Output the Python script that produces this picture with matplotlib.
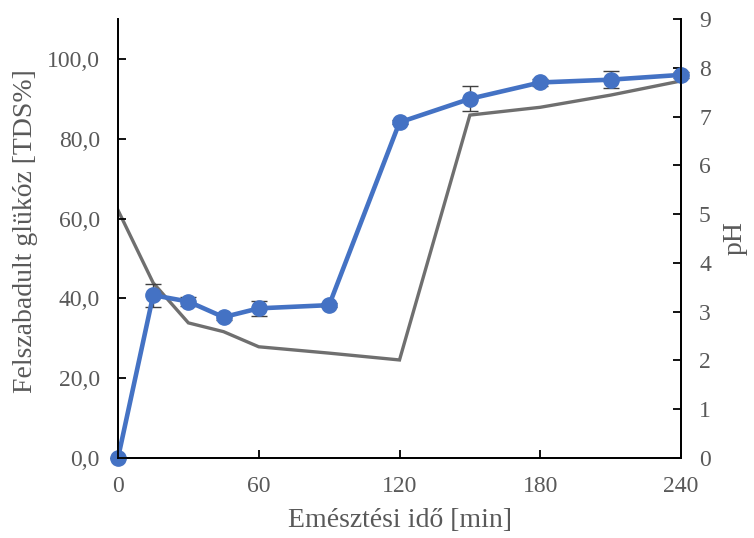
import matplotlib.pyplot as plt
import matplotlib.ticker as mticker

plt.rcParams['font.family'] = ['Liberation Serif', 'DejaVu Serif']

# Data
time_min = [0, 15, 30, 45, 60, 90, 120, 150, 180, 210, 240]
glucose = [0.0, 40.8, 39.2, 35.3, 37.5, 38.3, 84.1, 90.0, 94.1, 94.8, 96.0]
glucose_err = [0.0, 2.9, 1.2, 0.8, 1.8, 0.5, 0.5, 3.1, 0.8, 2.1, 0.8]
ph = [5.08, 3.59, 2.77, 2.59, 2.28, 2.15, 2.01, 7.03, 7.19, 7.44, 7.73]

x_ticks = [0, 60, 120, 180, 240]
left_ticks = [0, 20, 40, 60, 80, 100]
right_ticks = list(range(0, 10))

blue = '#4472C4'
gray = '#6F6F6F'
text_gray = '#595959'

fig = plt.figure(figsize=(7.54, 5.38), dpi=100)
ax = fig.add_axes([118/754, 1-458/538, (681-118)/754, (458-19)/538])
ax2 = ax.twinx()
ax.set_zorder(ax2.get_zorder() + 1)
ax.patch.set_visible(False)

ax2.plot(time_min, ph, color=gray, lw=2.4, solid_joinstyle='miter')
ax.errorbar(time_min, glucose, yerr=glucose_err, color=blue, lw=3.3, marker='o',
            ms=11, ecolor='#404040', elinewidth=1, capsize=6, capthick=1,
            clip_on=False)

ax.set_xlim(0, 240)
ax.set_ylim(0, 110)
ax2.set_ylim(0, 9)
ax.set_xticks(x_ticks)
ax.set_yticks(left_ticks)
ax2.set_yticks(right_ticks)
ax.yaxis.set_major_formatter(mticker.FuncFormatter(lambda v, p: f"{v:.1f}".replace('.', ',')))

for a in (ax, ax2):
    for s in a.spines.values():
        s.set_linewidth(1.3)
    a.spines['top'].set_visible(False)
    a.tick_params(direction='in', length=6, width=1.3, labelsize=17,
                  labelcolor=text_gray, pad=13)

ax.set_xlabel('Emésztési idő [min]', fontsize=20, color=text_gray, va='center')
ax.xaxis.set_label_coords(0.5, -0.142)
ax.set_ylabel('Felszabadult glükóz [TDS%]', fontsize=20, color=text_gray, va='center')
ax.yaxis.set_label_coords(-0.165, 0.516)
ax2.set_ylabel('pH', fontsize=20, color=text_gray, va='center')
ax2.yaxis.set_label_coords(1.096, 0.5)

fig.savefig('out.png', dpi=100)
